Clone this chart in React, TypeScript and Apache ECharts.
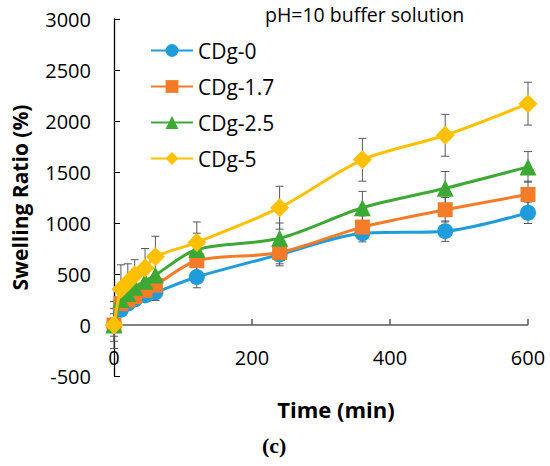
import React, { useEffect, useRef } from "react";
import * as echarts from "echarts";

const times = [0, 10, 20, 30, 45, 60, 120, 240, 360, 480, 600];
const seriesNames = ["CDg-0", "CDg-1.7", "CDg-2.5", "CDg-5"];
const cdg0 = [0, 150, 210, 250, 290, 320, 470, 690, 900, 920, 1100];
const cdg17 = [0, 210, 245, 280, 340, 390, 630, 710, 960, 1130, 1280];
const cdg25 = [0, 250, 310, 370, 430, 490, 740, 850, 1150, 1340, 1550];
const cdg5 = [0, 350, 420, 490, 560, 670, 810, 1150, 1620, 1860, 2170];
const err0 = [110, 50, 50, 60, 60, 80, 105, 110, 85, 100, 105];
const err17 = [160, 60, 70, 80, 90, 100, 110, 110, 110, 120, 130];
const err25 = [230, 70, 80, 100, 120, 130, 160, 150, 160, 165, 150];
const err5 = [0, 240, 180, 150, 190, 200, 200, 210, 210, 205, 210];
const yTicks = [-500, 0, 500, 1000, 1500, 2000, 2500, 3000];
const xTicks = [0, 200, 400, 600];

const colors = ["#1F9DDB", "#F47C28", "#3DA935", "#FFC000"];
const symbols = ["circle", "rect", "triangle", "diamond"];
const symbolSizes = [16, 15, 17, 19];
const values = [cdg0, cdg17, cdg25, cdg5];
const errors = [err0, err17, err25, err5];

export default function App() {
  const ref = useRef<HTMLDivElement>(null);
  useEffect(() => {
    if (!ref.current) return;
    const chart = echarts.init(ref.current, undefined, { renderer: "svg" });
    const font = "'Open Sans', 'Noto Sans', sans-serif";
    const axisColor = "#595959";

    const errorSeries = values.map((vals, si) => ({
      type: "custom",
      name: seriesNames[si] + " error",
      z: 1,
      silent: true,
      encode: { x: 0, y: 1 },
      data: times.map((t, i) => [t, vals[i], errors[si][i]]),
      renderItem: (params: any, api: any) => {
        const x = api.value(0);
        const y = api.value(1);
        const e = api.value(2);
        if (!e) return null;
        const top = api.coord([x, y + e]);
        const bot = api.coord([x, y - e]);
        const hw = 4;
        const style = { stroke: "#595959", lineWidth: 1 };
        return {
          type: "group",
          children: [
            { type: "line", shape: { x1: top[0], y1: top[1], x2: bot[0], y2: bot[1] }, style },
            { type: "line", shape: { x1: top[0] - hw, y1: top[1], x2: top[0] + hw, y2: top[1] }, style },
            { type: "line", shape: { x1: bot[0] - hw, y1: bot[1], x2: bot[0] + hw, y2: bot[1] }, style },
          ],
        };
      },
    }));

    // x axis crossing at y = 0: line segments between ticks plus upward tick marks
    const zeroAxisSeries = {
      type: "custom",
      name: "x axis at zero",
      z: 2,
      silent: true,
      encode: { x: 0, y: 1 },
      data: xTicks.map((t) => [t, 0]),
      renderItem: (params: any, api: any) => {
        const p = api.coord([api.value(0), api.value(1)]);
        const prev = api.coord([params.dataIndex > 0 ? xTicks[params.dataIndex - 1] : api.value(0), 0]);
        const style = { stroke: axisColor, lineWidth: 1.5 };
        return {
          type: "group",
          children: [
            { type: "line", shape: { x1: p[0], y1: p[1], x2: p[0], y2: p[1] - 6 }, style },
            { type: "line", shape: { x1: prev[0], y1: p[1], x2: p[0], y2: p[1] }, style },
          ],
        };
      },
    };

    const lineSeries = values.map((vals, si) => ({
      type: "line",
      name: seriesNames[si],
      z: 3 + si,
      smooth: 0.3,
      symbol: symbols[si],
      symbolSize: symbolSizes[si],
      showAllSymbol: true,
      itemStyle: { color: colors[si] },
      lineStyle: { color: colors[si], width: 3 },
      data: times.map((t, i) => [t, vals[i]]),
    }));

    chart.setOption({
      animation: false,
      textStyle: { fontFamily: font },
      title: {
        text: "pH=10 buffer solution",
        left: 265,
        top: 4,
        padding: 0,
        textStyle: { fontSize: 19.5, fontWeight: "normal", color: "#000", fontFamily: font },
      },
      legend: {
        data: seriesNames,
        orient: "vertical",
        left: 150,
        top: 40,
        padding: 0,
        itemWidth: 42,
        itemHeight: 16,
        itemGap: 15,
        textStyle: { fontSize: 21, color: "#000", fontFamily: font },
      },
      grid: { left: 114, right: 22, top: 19, bottom: 90, containLabel: false, outerBoundsMode: "none" },
      xAxis: {
        type: "value",
        min: xTicks[0],
        max: xTicks[xTicks.length - 1],
        interval: 200,
        name: "Time (min)",
        nameLocation: "middle",
        nameGap: 22,
        nameTextStyle: { fontSize: 22, fontWeight: "bold", color: "#000", padding: [0, 0, 0, 30], fontFamily: font },
        axisLine: { show: false, onZero: false },
        axisTick: { show: false },
        axisLabel: { fontSize: 20, color: "#000", margin: -29, fontFamily: font, formatter: (v: number) => String(v) },
        splitLine: { show: false },
      },
      yAxis: {
        type: "value",
        min: yTicks[0],
        max: yTicks[yTicks.length - 1],
        interval: 500,
        name: "Swelling Ratio (%)",
        nameLocation: "middle",
        nameGap: 84,
        nameRotate: 90,
        nameTextStyle: { fontSize: 21, fontWeight: "bold", color: "#000", fontFamily: font },
        axisLine: { show: true, lineStyle: { color: "#000", width: 1.3 } },
        axisTick: { show: true, inside: true, length: 6, lineStyle: { color: "#000" } },
        axisLabel: { fontSize: 20, color: "#000", margin: 23, fontFamily: font, formatter: (v: number) => String(v) },
        splitLine: { show: false },
      },
      graphic: [
        {
          type: "text",
          left: 262,
          top: 434,
          style: {
            text: "(c)",
            fontSize: 22,
            fontWeight: "bold",
            fill: "#000",
            fontFamily: "'Liberation Serif', serif",
          },
        },
      ],
      series: [zeroAxisSeries, ...errorSeries, ...lineSeries],
    } as any);
    return () => chart.dispose();
  }, []);
  return (
    <div
      ref={ref}
      style={{ position: "fixed", left: 0, top: 0, width: 550, height: 466, background: "#fff" }}
    />
  );
}
